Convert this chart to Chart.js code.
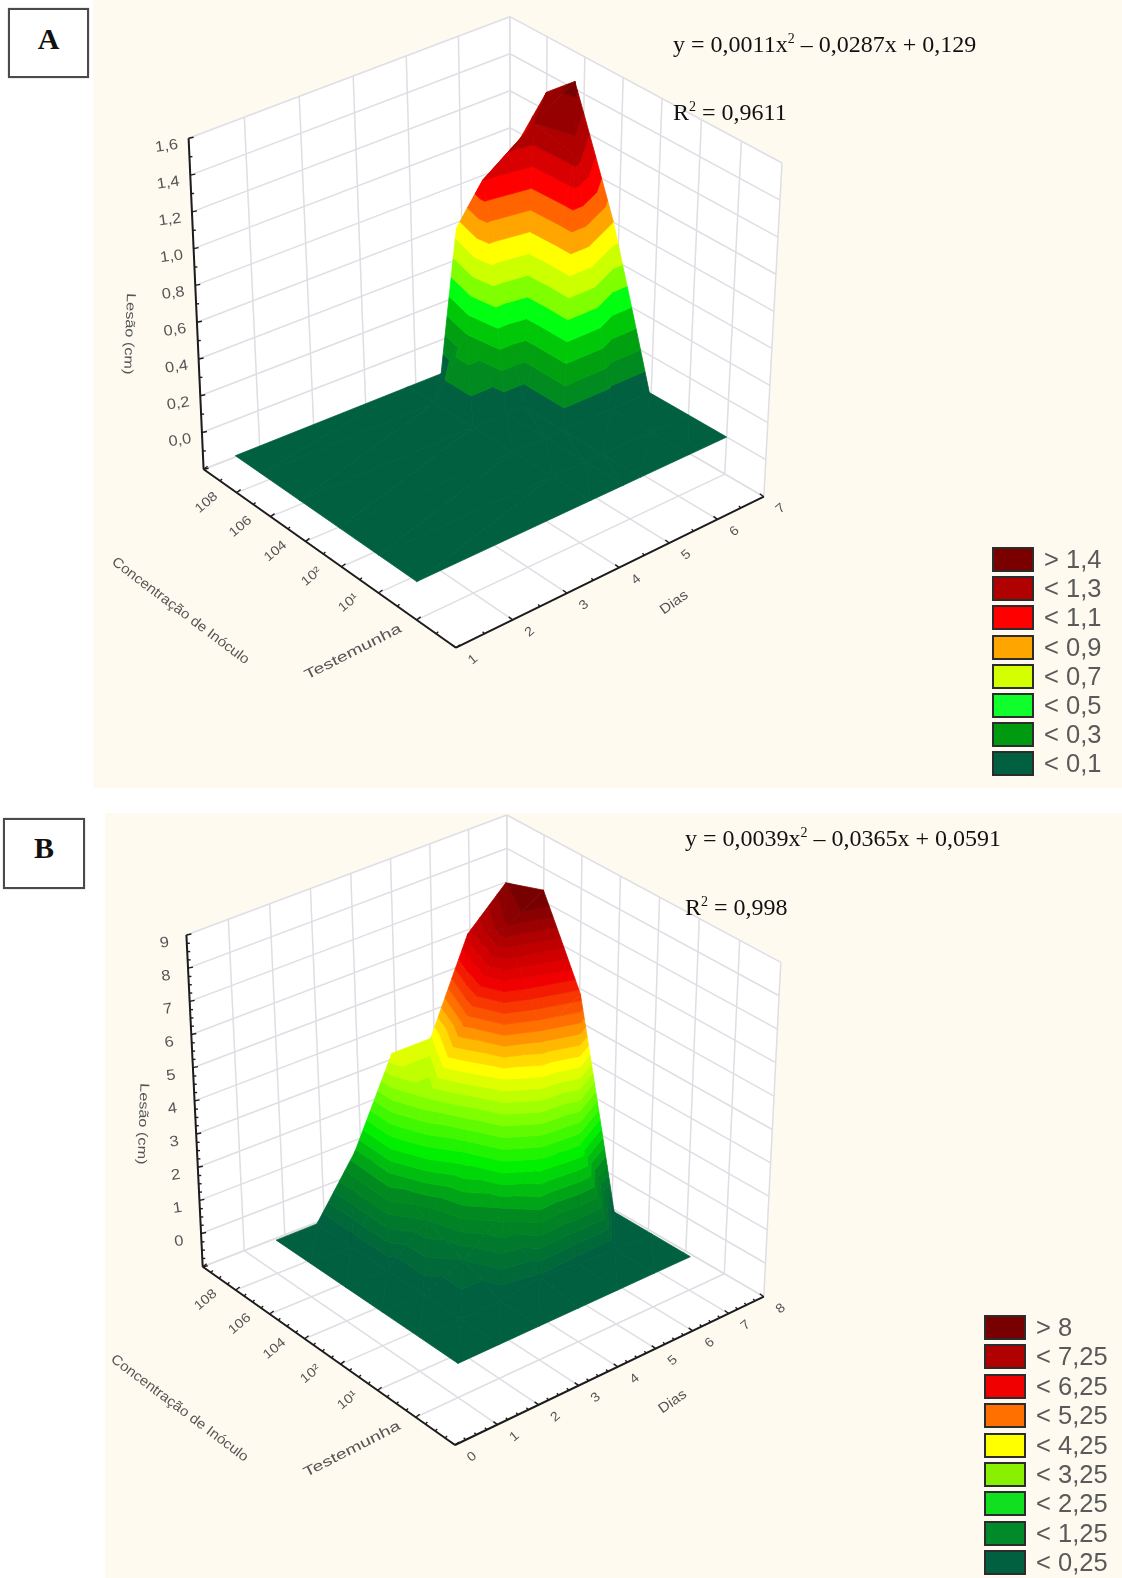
<!DOCTYPE html>
<html>
<head>
<meta charset="utf-8">
<title>Lesão (cm)</title>
<script src="https://cdn.jsdelivr.net/npm/chart.js@4"></script>
<style>
  html, body { margin: 0; padding: 0; background: #fff; }
  #page { position: relative; width: 1122px; height: 1578px; overflow: hidden; }
  .panel { position: absolute; background: #fefaf0; }
  canvas { position: absolute; left: 0; filter: blur(0.5px); }
  .tag { position: absolute; box-sizing: border-box; border: 2px solid #4a4a4a; background: #fff;
    font: bold 30px "Liberation Serif"; color: #111; text-align: center; box-shadow: 0 0 1px #888; }
  .eq { position: absolute; font: 24px "Liberation Serif"; color: #111; white-space: nowrap; line-height: 26px; }
  .eq sup { font-size: 14px; line-height: 0; }
  .swatch { position: absolute; box-sizing: border-box; border: 2px solid #2c2c2c; width: 42px; height: 25px; filter: blur(0.4px); }
  .legtext { position: absolute; font: 25.5px "Liberation Sans"; color: #5a5a5a; white-space: nowrap; line-height: 26px; filter: blur(0.4px); }
</style>
</head>
<body>
<div id="page">
  <div class="panel" style="left:93px;top:0;width:1029px;height:788px"></div>
  <div class="panel" style="left:105px;top:813px;width:1017px;height:765px"></div>
  <div class="tag" style="left:8px;top:8px;width:81px;height:70px;line-height:58px">A</div>
  <div class="tag" style="left:3px;top:818px;width:82px;height:71px;line-height:56px">B</div>
  <canvas id="chartA" width="1122" height="789" style="top:0"></canvas>
  <canvas id="chartB" width="1122" height="789" style="top:789px"></canvas>
  <div class="eq" style="left:673px;top:31px">y = 0,0011x<sup>2</sup> – 0,0287x + 0,129</div>
  <div class="eq" style="left:673px;top:99px">R<sup>2</sup> = 0,9611</div>
  <div class="eq" style="left:685px;top:825px">y = 0,0039x<sup>2</sup> – 0,0365x + 0,0591</div>
  <div class="eq" style="left:685px;top:894px">R<sup>2</sup> = 0,998</div>
</div>
<script>
// values
const concLabels = ['108', '106', '104', '10²', '10¹', 'Testemunha'];

// surface nodes of A sit where the steps of the ridge show in the picture
const diasA = [1, 4.2, 4.85, 5.2, 6.2, 7];
const concNodesA = [1, 1.75, 2.85, 3.95, 5, 6];
const diasTicksA = [1, 2, 3, 4, 5, 6, 7];
const lesaoTicksA = [0, 0.2, 0.4, 0.6, 0.8, 1, 1.2, 1.4, 1.6];
const lesaoTickNamesA = ['0,0', '0,2', '0,4', '0,6', '0,8', '1,0', '1,2', '1,4', '1,6'];
const lesaoA = [
  [0, 0, 0, 0.75, 1, 1.3],
  [0, 0, 0.3, 1.1, 1.3, 1.44],
  [0, 0, 0, 0, 1.25, 0.8],
  [0, 0, 0, 0, 0, 0],
  [0, 0, 0, 0, 0, 0],
  [0, 0, 0, 0, 0, 0],
];
const levelsA = [0.1, 0.2, 0.3, 0.4, 0.5, 0.6, 0.7, 0.8, 0.9, 1, 1.1, 1.2, 1.3, 1.4];
const bandColorsA = ['#00603f', '#008a1f', '#00a010', '#00c808', '#00ff10', '#80ff00', '#ccff00', '#ffff00',
  '#ffa500', '#ff6400', '#ff0000', '#d80000', '#b00000', '#960000', '#7a0000'];
const legendNamesA = ['> 1,4', '< 1,3', '< 1,1', '< 0,9', '< 0,7', '< 0,5', '< 0,3', '< 0,1'];
const legendColorsA = ['#7a0000', '#b00000', '#ff0000', '#ffa500', '#d4ff00', '#10ff2a', '#009a10', '#00603f'];

const diasB = [1, 2, 3, 4, 5, 6, 7];
const concNodesB = [1, 2, 3, 4, 5, 6];
const diasTicksB = [0, 1, 2, 3, 4, 5, 6, 7, 8];
const lesaoTicksB = [0, 1, 2, 3, 4, 5, 6, 7, 8, 9];
const lesaoTickNamesB = ['0', '1', '2', '3', '4', '5', '6', '7', '8', '9'];
const lesaoB = [
  [0, 0, 1.7, 4.2, 4.2, 6.9, 8],
  [0, 0, 1.8, 3.5, 5.4, 7.7, 8.4],
  [0, 0, 1, 2.4, 4.2, 5.2, 5.9],
  [0, 0, 0.5, 1.4, 2.4, 2.6, 0],
  [0, 0, 0, 0.2, 0.1, 0, 0],
  [0, 0, 0, 0, 0, 0, 0],
];
const levelsB = [0.25, 0.5, 0.75, 1, 1.25, 1.5, 1.75, 2, 2.25, 2.5, 2.75, 3, 3.25, 3.5, 3.75, 4, 4.25,
  4.5, 4.75, 5, 5.25, 5.5, 5.75, 6, 6.25, 6.5, 6.75, 7, 7.25, 7.5, 7.75, 8];
const rampLevelsB = [0, 1.25, 2.25, 3.25, 4.25, 5.25, 6.25, 7.25, 8];
const rampColorsB = ['#00603f', '#008a1f', '#00f000', '#80ff00', '#ffff00', '#ff7000', '#f00000', '#b00000', '#780000'];
const legendNamesB = ['> 8', '< 7,25', '< 6,25', '< 5,25', '< 4,25', '< 3,25', '< 2,25', '< 1,25', '< 0,25'];
const legendColorsB = ['#780000', '#b00000', '#f00000', '#ff7000', '#ffff00', '#88f000', '#10e020', '#008a2a', '#00603f'];

// camera of each panel: corners of the box on the page, order left, back, right, front
const viewA = {
  top: [[188.6, 138.3], [509.8, 16.7], [782, 163], [458, 299]],
  floor: [[203.6, 469.3], [511, 350], [763.8, 496.7], [456, 647.7]],
  dRange: [1, 7], zRange: [-0.2, 1.6], yRange: [0, 789], zMinor: 2,
  lesaoTitle: [-67, 30], dMinor: 2, cMinor: 2,
};
const viewB = {
  top: [[186.4, 935], [506.8, 815], [780.8, 962.3], [456, 1098]],
  floor: [[202.7, 1266.7], [508, 1148], [763.8, 1296.7], [455, 1445]],
  dRange: [0, 8], zRange: [-1, 9], yRange: [789, 1578], zMinor: 4,
  lesaoTitle: [-52, 23], dMinor: 4, cMinor: 4,
};

function squareToQuad(q) {
  const [[x0, y0], [x1, y1], [x2, y2], [x3, y3]] = q;
  const dx1 = x1 - x2, dx2 = x3 - x2, sx = x0 - x1 + x2 - x3;
  const dy1 = y1 - y2, dy2 = y3 - y2, sy = y0 - y1 + y2 - y3;
  const den = dx1 * dy2 - dx2 * dy1;
  const g = (sx * dy2 - dx2 * sy) / den;
  const h = (dx1 * sy - sx * dy1) / den;
  const a = x1 - x0 + g * x1, b = x3 - x0 + h * x3;
  const d = y1 - y0 + g * y1, e = y3 - y0 + h * y3;
  return (u, v) => {
    const w = g * u + h * v + 1;
    return [(a * u + b * v + x0) / w, (d * u + e * v + y0) / w];
  };
}

function makeProjector(view) {
  const floorAt = squareToQuad(view.floor);
  const topAt = squareToQuad(view.top);
  // d = day, c = position on the concentration axis (0..7), z = lesion
  return (d, c, z) => {
    const u = (d - view.dRange[0]) / (view.dRange[1] - view.dRange[0]);
    const v = c / 7;
    const w = (z - view.zRange[0]) / (view.zRange[1] - view.zRange[0]);
    const f = floorAt(u, v), t = topAt(u, v);
    return { x: f[0] + w * (t[0] - f[0]), y: f[1] + w * (t[1] - f[1]) };
  };
}

function shape(points, color) {
  return {
    data: points.concat(points[0]), showLine: true, fill: 'shape', backgroundColor: color,
    borderColor: color, borderWidth: 0.8, pointRadius: 0, tension: 0,
  };
}

function line(points, color, width) {
  return { data: points, showLine: true, fill: false, borderColor: color, borderWidth: width, pointRadius: 0, tension: 0 };
}

// keeps the part of a polygon on one side of a lesion level
function clipLevel(poly, level, keepAbove) {
  const out = [];
  poly.forEach((p, i) => {
    const q = poly[(i + 1) % poly.length];
    const pIn = keepAbove ? p[2] >= level : p[2] <= level;
    const qIn = keepAbove ? q[2] >= level : q[2] <= level;
    if (pIn) out.push(p);
    if (pIn !== qIn) {
      const t = (level - p[2]) / (q[2] - p[2]);
      out.push([p[0] + t * (q[0] - p[0]), p[1] + t * (q[1] - p[1]), level]);
    }
  });
  return out;
}

function surfaceShapes(project, dias, concNodes, lesao, levels, colors) {
  const shapes = [];
  const addTriangle = (tri) => {
    colors.forEach((color, i) => {
      let poly = tri;
      if (i > 0) poly = clipLevel(poly, levels[i - 1], true);
      if (i < levels.length && poly.length) poly = clipLevel(poly, levels[i], false);
      if (poly.length >= 3) shapes.push(shape(poly.map(p => project(p[0], p[1], p[2])), color));
    });
  };
  // back cells first, the front ones are painted over them
  for (let i = dias.length - 2; i >= 0; i--) {
    for (let j = 0; j < lesao.length - 1; j++) {
      const a = [dias[i], concNodes[j], lesao[j][i]];
      const b = [dias[i + 1], concNodes[j], lesao[j][i + 1]];
      const c = [dias[i + 1], concNodes[j + 1], lesao[j + 1][i + 1]];
      const e = [dias[i], concNodes[j + 1], lesao[j + 1][i]];
      addTriangle([a, b, e]);
      addTriangle([b, c, e]);
    }
  }
  return shapes;
}

function boxShapes(project, view, diasTicks, lesaoTicks) {
  const [d0, d1] = view.dRange;
  const [z0, z1] = view.zRange;
  const grid = '#dedee4';
  const zLines = [z0].concat(lesaoTicks);
  const out = [
    shape([project(d0, 0, z0), project(d1, 0, z0), project(d1, 0, z1), project(d0, 0, z1)], '#ffffff'),
    shape([project(d1, 0, z0), project(d1, 7, z0), project(d1, 7, z1), project(d1, 0, z1)], '#ffffff'),
    shape([project(d0, 0, z0), project(d1, 0, z0), project(d1, 7, z0), project(d0, 7, z0)], '#ffffff'),
  ];
  diasTicks.forEach(d => {
    out.push(line([project(d, 0, z0), project(d, 0, z1)], grid, 1.5));
    out.push(line([project(d, 0, z0), project(d, 7, z0)], grid, 1.5));
  });
  for (let c = 0; c <= 7; c++) {
    out.push(line([project(d1, c, z0), project(d1, c, z1)], grid, 1.5));
    out.push(line([project(d0, c, z0), project(d1, c, z0)], grid, 1.5));
  }
  zLines.forEach(z => {
    out.push(line([project(d0, 0, z), project(d1, 0, z)], grid, 1.5));
    out.push(line([project(d1, 0, z), project(d1, 7, z)], grid, 1.5));
  });
  return out;
}

function axisShapes(project, view, diasTicks, lesaoTicks) {
  const [d0, d1] = view.dRange;
  const [z0, z1] = view.zRange;
  const ink = '#1c1c1c';
  const stub = (p, dx, dy) => line([p, { x: p.x + dx, y: p.y + dy }], ink, 1.4);
  const out = [
    line([project(d0, 0, z0), project(d0, 0, z1)], ink, 2),
    line([project(d0, 0, z0), project(d0, 7, z0)], ink, 2),
    line([project(d0, 7, z0), project(d1, 7, z0)], ink, 2),
  ];
  const zs = [z0].concat(lesaoTicks);
  zs.forEach((z, i) => {
    out.push(stub(project(d0, 0, z), 5, -1));
    if (i < zs.length - 1) {
      for (let k = 1; k < view.zMinor; k++) {
        out.push(stub(project(d0, 0, z + (zs[i + 1] - z) * k / view.zMinor), 3, 0));
      }
    }
  });
  for (let c = 0; c <= 7; c++) {
    out.push(stub(project(d0, c, z0), 4, -3));
    if (c < 7) {
      for (let k = 1; k < view.cMinor; k++) {
        out.push(stub(project(d0, c + k / view.cMinor, z0), 2, -2));
      }
    }
  }
  diasTicks.forEach((d, i) => {
    out.push(stub(project(d, 7, z0), -4, -3));
    if (i < diasTicks.length - 1) {
      for (let k = 1; k < view.dMinor; k++) {
        out.push(stub(project(d + k / view.dMinor, 7, z0), -2, -2));
      }
    }
  });
  return out;
}

// Writes the slanted axis texts over the datasets
function labelPlugin(project, view, diasTicks, lesaoTicks, lesaoNames) {
  const [d0, d1] = view.dRange;
  const z0 = view.zRange[0];
  return {
    id: 'boxLabels',
    afterDraw(chart) {
      const { ctx } = chart;
      const yTop = view.yRange[0];
      const put = (text, p, dx, dy, angle, size, stretch, align) => {
        ctx.save();
        ctx.translate(p.x + dx, p.y - yTop + dy);
        ctx.rotate(angle * Math.PI / 180);
        ctx.scale(stretch, 1);
        ctx.font = size + 'px "Liberation Sans"';
        ctx.fillStyle = '#555';
        ctx.textAlign = align || 'center';
        ctx.textBaseline = 'middle';
        ctx.fillText(text, 0, 0);
        ctx.restore();
      };
      lesaoTicks.forEach((z, i) => put(lesaoNames[i], project(d0, 0, z), -22, 8, -8, 15, 1.1));
      concLabels.forEach((name, i) => {
        if (i === 5) put(name, project(d0, 6, z0), -16, 8, -27, 14, 1.4, 'right');
        else put(name, project(d0, i + 1, z0), -30, 10, -40, 13, 1.15);
      });
      diasTicks.forEach(d => put(String(d), project(d, 7, z0), 17, 12, -40, 13, 1.1));
      const zMid = (view.zRange[0] + view.zRange[1]) / 2;
      put('Lesão (cm)', project(d0, 0, zMid), view.lesaoTitle[0], view.lesaoTitle[1], 92, 13, 1.25);
      put('Concentração de Inóculo', project(d0, 3.5, z0), -143, 57, 37, 14, 1.08);
      put('Dias', project((d0 + d1) / 2, 7, z0), 55, 35, -35, 14, 1.1);
    },
  };
}

function rampColor(z) {
  let i = 0;
  while (i < rampLevelsB.length - 2 && z > rampLevelsB[i + 1]) i++;
  const t = Math.min(1, Math.max(0, (z - rampLevelsB[i]) / (rampLevelsB[i + 1] - rampLevelsB[i])));
  const rgb = (hex, k) => parseInt(hex.substr(1 + k * 2, 2), 16);
  const mix = k => Math.round(rgb(rampColorsB[i], k) * (1 - t) + rgb(rampColorsB[i + 1], k) * t);
  return `rgb(${mix(0)}, ${mix(1)}, ${mix(2)})`;
}

function drawPanel(id, view, dias, concNodes, diasTicks, lesaoTicks, lesaoNames, lesao, levels, colors) {
  const project = makeProjector(view);
  const datasets = [
    ...boxShapes(project, view, diasTicks, lesaoTicks),
    ...axisShapes(project, view, diasTicks, lesaoTicks),
    ...surfaceShapes(project, dias, concNodes, lesao, levels, colors),
  ];
  // Chart.js paints the first dataset last
  datasets.reverse();
  new Chart(document.getElementById(id), {
    type: 'scatter',
    data: { datasets },
    options: {
      responsive: false,
      animation: false,
      events: [],
      layout: { padding: 0 },
      clip: false,
      plugins: { legend: { display: false }, tooltip: { enabled: false } },
      scales: {
        x: { type: 'linear', display: false, min: 0, max: 1122 },
        y: { type: 'linear', display: false, min: view.yRange[0], max: view.yRange[1], reverse: true },
      },
    },
    plugins: [labelPlugin(project, view, diasTicks, lesaoTicks, lesaoNames)],
  });
}

function drawLegend(names, colors, left, top, step, height, textLeft) {
  const page = document.getElementById('page');
  names.forEach((name, i) => {
    const box = document.createElement('div');
    box.className = 'swatch';
    box.style.cssText = `left:${left}px;top:${top + i * step}px;height:${height}px;background:${colors[i]}`;
    page.append(box);
    const label = document.createElement('div');
    label.className = 'legtext';
    label.style.cssText = `left:${textLeft}px;top:${top + i * step - 1}px`;
    label.textContent = name;
    page.append(label);
  });
}

drawPanel('chartA', viewA, diasA, concNodesA, diasTicksA, lesaoTicksA, lesaoTickNamesA, lesaoA, levelsA, bandColorsA);
const bandColorsB = [0].concat(levelsB).map(z => rampColor(z));
drawPanel('chartB', viewB, diasB, concNodesB, diasTicksB, lesaoTicksB, lesaoTickNamesB, lesaoB, levelsB, bandColorsB);
drawLegend(legendNamesA, legendColorsA, 992, 547, 29.2, 25, 1044);
drawLegend(legendNamesB, legendColorsB, 984, 1315, 29.4, 25, 1036);
</script>
</body>
</html>
